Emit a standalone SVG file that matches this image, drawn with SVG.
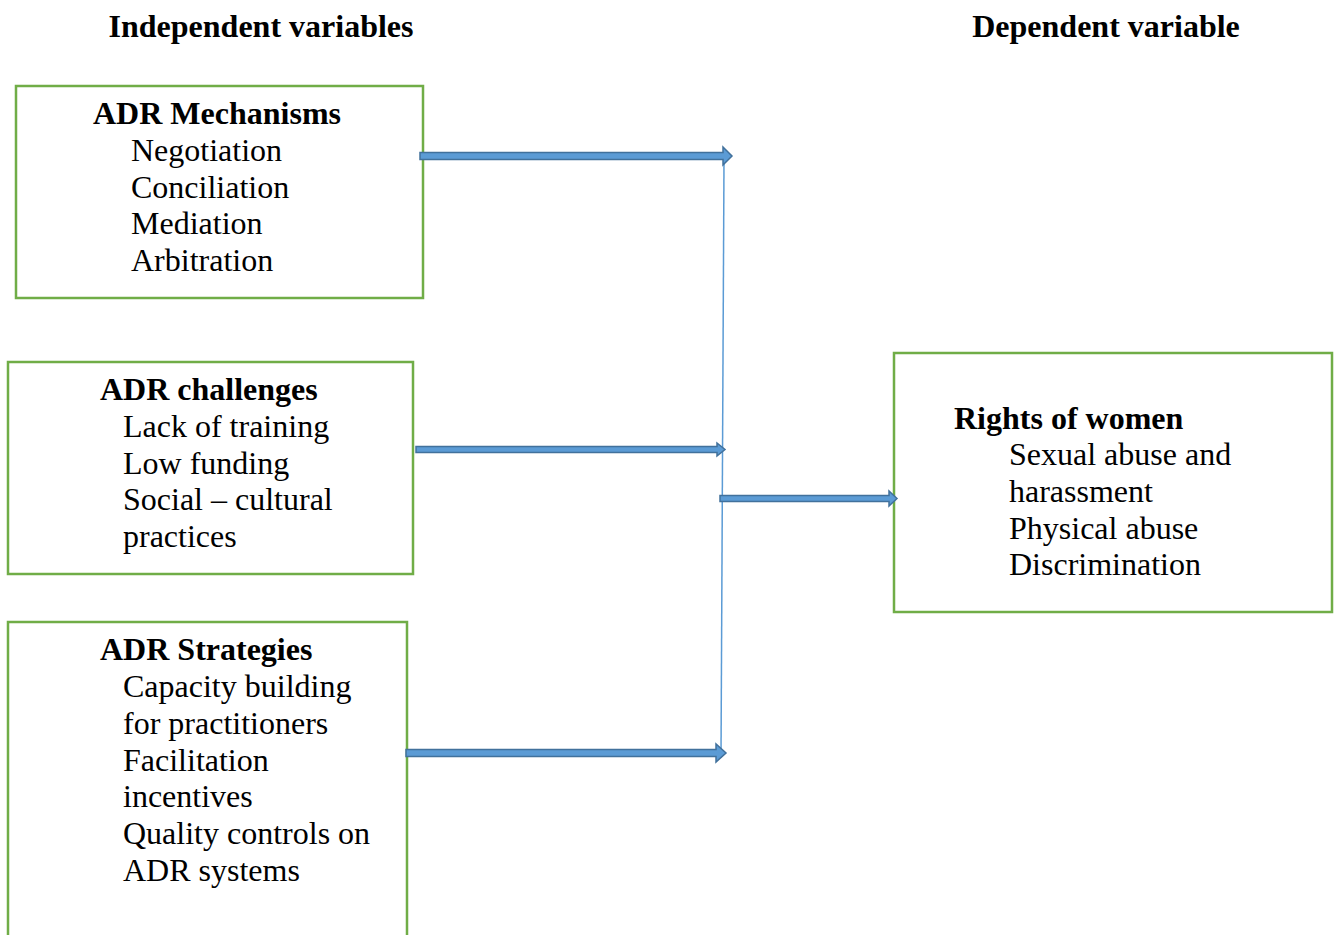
<svg xmlns="http://www.w3.org/2000/svg" width="1335" height="935" viewBox="0 0 1335 935">
<style>
.box{fill:#fff;stroke:#70AD47;stroke-width:2.5}
text{font-family:"Liberation Serif","Times New Roman",serif;font-size:32px;fill:#000}
.b{font-weight:bold}
.arr{fill:#5B9BD5;stroke:#41719C;stroke-width:1.5}
.ln{stroke:#5B9BD5;stroke-width:1.5;fill:none}
</style>
<rect width="1335" height="935" fill="#fff"/>
<text class="b" x="261" y="37" text-anchor="middle">Independent variables</text>
<text class="b" x="1106" y="37" text-anchor="middle">Dependent variable</text>
<g id="mechanisms">
<rect class="box" x="16" y="86" width="407" height="212"/>
<text class="b" x="93" y="124">ADR Mechanisms</text>
<text x="131" y="161">Negotiation</text>
<text x="131" y="198">Conciliation</text>
<text x="131" y="234">Mediation</text>
<text x="131" y="271">Arbitration</text>
</g>
<g id="challenges">
<rect class="box" x="8" y="362" width="405" height="212"/>
<text class="b" x="100" y="400">ADR challenges</text>
<text x="123" y="437">Lack of training</text>
<text x="123" y="474">Low funding</text>
<text x="123" y="510">Social – cultural</text>
<text x="123" y="547">practices</text>
</g>
<g id="strategies">
<path class="box" d="M8 945 V622 H407 V945"/>
<text class="b" x="100" y="660">ADR Strategies</text>
<text x="123" y="697">Capacity building</text>
<text x="123" y="734">for practitioners</text>
<text x="123" y="771">Facilitation</text>
<text x="123" y="807">incentives</text>
<text x="123" y="844">Quality controls on</text>
<text x="123" y="881">ADR systems</text>
</g>
<g id="rights">
<rect class="box" x="894" y="353" width="438" height="259"/>
<text class="b" x="954" y="429">Rights of women</text>
<text x="1009" y="465">Sexual abuse and</text>
<text x="1009" y="502">harassment</text>
<text x="1009" y="539">Physical abuse</text>
<text x="1009" y="575">Discrimination</text>
</g>
<g id="connectors">
<path class="ln" d="M724 160 L721 758"/>
<path class="arr" d="M420 152.5 H723 V147 L732 156 L723 165 V159.5 H420 Z"/>
<path class="arr" d="M416 446.5 H717 V443 L725 449.5 L717 456 V452.5 H416 Z"/>
<path class="arr" d="M406 749.5 H716 V744 L726 753 L716 762 V756.5 H406 Z"/>
<path class="arr" d="M720 495.5 H889 V491 L897 498.5 L889 506 V501.5 H720 Z"/>
</g>
</svg>
